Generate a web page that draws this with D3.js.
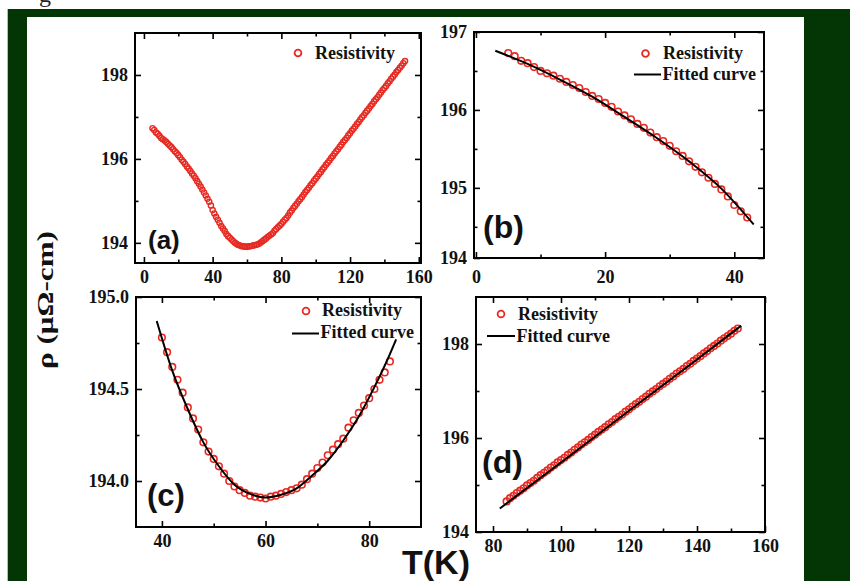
<!DOCTYPE html>
<html>
<head>
<meta charset="utf-8">
<script src="https://cdn.jsdelivr.net/npm/d3@7"></script>
<style>
  body { margin: 0; background: #fff; }
  svg { display: block; }
</style>
</head>
<body>
<script>
// measured resistivity, T in K, rho in µΩ-cm (same data set in all four panels)
const temps = [
  5, 6, 7, 8, 9, 10, 11, 12, 13, 14, 15, 16, 17, 18, 19, 20, 21, 22, 23, 24,
  25, 26, 27, 28, 29, 30, 31, 32, 33, 34, 35, 36, 37, 38, 39, 40, 41, 42, 43, 44,
  45, 46, 47, 48, 49, 50, 51, 52, 53, 54, 55, 56, 57, 58, 59, 60, 61, 62, 63, 64,
  65, 66, 67, 68, 69, 70, 71, 72, 73, 74, 75, 76, 77, 78, 79, 80, 81, 82, 83, 84,
  85, 86, 87, 88, 89, 90, 91, 92, 93, 94, 95, 96, 97, 98, 99, 100, 101, 102, 103, 104,
  105, 106, 107, 108, 109, 110, 111, 112, 113, 114, 115, 116, 117, 118, 119, 120, 121, 122, 123, 124,
  125, 126, 127, 128, 129, 130, 131, 132, 133, 134, 135, 136, 137, 138, 139, 140, 141, 142, 143, 144,
  145, 146, 147, 148, 149, 150, 151, 152
];
const rho = [
  196.73, 196.69, 196.63, 196.60, 196.55, 196.50, 196.47, 196.44, 196.40, 196.36,
  196.32, 196.28, 196.23, 196.18, 196.14, 196.09, 196.04, 195.98, 195.93, 195.88,
  195.82, 195.77, 195.71, 195.65, 195.60, 195.54, 195.47, 195.41, 195.34, 195.27,
  195.20, 195.13, 195.05, 194.98, 194.89, 194.78, 194.70, 194.62, 194.55, 194.48,
  194.40, 194.34, 194.28, 194.21, 194.16, 194.12, 194.08, 194.04, 194.00, 193.97,
  193.95, 193.935, 193.92, 193.915, 193.91, 193.905, 193.915, 193.92, 193.93, 193.94,
  193.95, 193.96, 193.98, 194.01, 194.04, 194.07, 194.10, 194.14, 194.17, 194.20,
  194.23, 194.29, 194.33, 194.37, 194.41, 194.45, 194.50, 194.55, 194.59, 194.65,
  194.72, 194.77, 194.83, 194.88, 194.93, 194.99, 195.04, 195.09, 195.15, 195.21,
  195.26, 195.31, 195.37, 195.42, 195.48, 195.53, 195.58, 195.64, 195.69, 195.75,
  195.80, 195.86, 195.91, 195.96, 196.02, 196.07, 196.13, 196.18, 196.23, 196.29,
  196.34, 196.40, 196.45, 196.50, 196.56, 196.61, 196.67, 196.72, 196.77, 196.83,
  196.88, 196.94, 196.99, 197.04, 197.10, 197.15, 197.20, 197.26, 197.31, 197.37,
  197.42, 197.47, 197.53, 197.58, 197.64, 197.69, 197.74, 197.80, 197.85, 197.91,
  197.96, 198.01, 198.07, 198.12, 198.17, 198.22, 198.28, 198.33
];

// fitted curves (b), (c), (d)
const fitLowT = [3, 8, 13, 18, 23, 28, 33, 38, 43];
const fitLowRho = [196.76, 196.59, 196.39, 196.17, 195.91, 195.64, 195.34, 194.99, 194.53];
const fitMidT = [39, 42, 45, 48, 51, 54, 57, 60, 63, 66, 69, 72, 75, 78, 81, 84, 85.2];
const fitMidRho = [194.87, 194.60, 194.39, 194.21, 194.08, 193.98, 193.93, 193.91, 193.925,
  193.96, 194.03, 194.11, 194.22, 194.35, 194.51, 194.69, 194.77];
const fitHighT = [82, 100, 120, 140, 153];
const fitHighRho = [194.50, 195.48, 196.58, 197.67, 198.39];

// tick values
const xTicksA = [0, 40, 80, 120, 160], xMinorA = [20, 60, 100, 140];
const yTicksA = [194, 196, 198], yMinorA = [195, 197];
const xTicksB = [0, 20, 40], xMinorB = [10, 30];
const yTicksB = [194.1, 195, 196, 197], yMinorB = [194.5, 195.5, 196.5];
const xTicksC = [40, 60, 80], xMinorC = [50, 70];
const yTicksC = [194.0, 194.5, 195.0], yMinorC = [194.25, 194.75];
const xTicksD = [80, 100, 120, 140, 160], xMinorD = [90, 110, 130, 150];
const yTicksD = [194, 196, 198], yMinorD = [195, 197];

const width = 850, height = 581;
const red = "#e62a22";
const serif = "'Liberation Serif', 'Times New Roman', serif";
const sans = "'Liberation Sans', Arial, sans-serif";

const svg = d3.select("body").append("svg")
  .attr("width", width)
  .attr("height", height);

// page frame
svg.append("rect").attr("width", width).attr("height", height).attr("fill", "#fff");
svg.append("rect").attr("x", 8).attr("y", 9).attr("width", width - 8).attr("height", height - 9)
  .attr("fill", "#033604");
svg.append("line").attr("x1", 7.5).attr("x2", 7.5).attr("y1", 9).attr("y2", height)
  .attr("stroke", "#bbb");
svg.append("rect").attr("x", 27).attr("y", 17).attr("width", 777).attr("height", height - 17)
  .attr("fill", "#fff");
// caption cut off by the top edge, as in the source
svg.append("text").attr("x", 39).attr("y", 2).text("g")
  .attr("font-family", serif).attr("font-size", 24).attr("fill", "#222");

const points = temps.map((t, i) => ({t: t, r: rho[i]}));
const zip = (a, b) => a.map((v, i) => [v, b[i]]);

const panels = [
  {box: [135, 421, 33, 263], xd: [-5.2, 161.3], yd: [193.52, 199],
   xt: xTicksA, xm: xMinorA, yt: yTicksA, ym: yMinorA, yf: d3.format("d"), xpad: 7,
   range: [0, 200], r: 2.6, sw: 1.4, fit: null,
   tag: "(a)", tagX: 148, tagY: 249, tagSize: 26,
   leg: {cx: 298, cy: 53, tx: 315, ty: 58.5}},
  {box: [474, 764, 32, 258], xd: [-0.3, 44.6], yd: [194.1, 197],
   xt: xTicksB, xm: xMinorB, yt: yTicksB, ym: yMinorB, yf: d3.format("d"), xpad: 12,
   range: [5, 42], r: 3.3, sw: 1.6, fit: zip(fitLowT, fitLowRho),
   tag: "(b)", tagX: 483, tagY: 238, tagSize: 32,
   leg: {cx: 645.5, cy: 53.5, tx: 663, ty: 58.5, lx1: 634, lx2: 661, ly: 74.5, fy: 80}},
  {box: [136, 421, 297, 527], xd: [35, 90], yd: [193.75, 195],
   xt: xTicksC, xm: xMinorC, yt: yTicksC, ym: yMinorC, yf: d3.format(".1f"), xpad: 7,
   range: [40, 84], r: 3.3, sw: 1.6, fit: zip(fitMidT, fitMidRho),
   tag: "(c)", tagX: 147, tagY: 506, tagSize: 31,
   leg: {cx: 306, cy: 311, tx: 322, ty: 316, lx1: 292, lx2: 319, ly: 333.5, fy: 338}},
  {box: [476, 765, 297, 532], xd: [75, 160], yd: [194, 199],
   xt: xTicksD, xm: xMinorD, yt: yTicksD, ym: yMinorD, yf: d3.format("d"), xpad: 7,
   range: [84, 152], r: 3.3, sw: 1.6, fit: zip(fitHighT, fitHighRho),
   tag: "(d)", tagX: 482, tagY: 473, tagSize: 32,
   leg: {cx: 501, cy: 314, tx: 518, ty: 319.5, lx1: 487, lx2: 515, ly: 336, fy: 341.5}}
];

function styleAxis(sel) {
  sel.select(".domain").remove();
  sel.selectAll(".tick line").attr("stroke", "#000").attr("stroke-width", 1.6);
  sel.selectAll(".tick text")
    .attr("font-family", serif)
    .attr("font-weight", "bold")
    .attr("font-size", 18)
    .attr("fill", "#111");
}

panels.forEach(p => {
  const [x0, x1, y0, y1] = p.box;
  const x = d3.scaleLinear().domain(p.xd).range([x0, x1]);
  const y = d3.scaleLinear().domain(p.yd).range([y1, y0]);
  const g = svg.append("g");

  // major ticks, inward on all four sides
  g.append("g").attr("transform", `translate(0,${y1})`)
    .call(d3.axisBottom(x).tickValues(p.xt).tickSize(-6).tickPadding(p.xpad).tickFormat(d3.format("d")))
    .call(styleAxis);
  g.append("g").attr("transform", `translate(0,${y0})`)
    .call(d3.axisTop(x).tickValues(p.xt).tickSize(-6).tickFormat(""))
    .call(styleAxis);
  g.append("g").attr("transform", `translate(${x0},0)`)
    .call(d3.axisLeft(y).tickValues(p.yt).tickSize(-6).tickPadding(7).tickFormat(p.yf))
    .call(styleAxis);
  g.append("g").attr("transform", `translate(${x1},0)`)
    .call(d3.axisRight(y).tickValues(p.yt).tickSize(-6).tickFormat(""))
    .call(styleAxis);

  // minor ticks
  [[d3.axisBottom(x), y1, p.xm, true], [d3.axisTop(x), y0, p.xm, true],
   [d3.axisLeft(y), x0, p.ym, false], [d3.axisRight(y), x1, p.ym, false]].forEach(([ax, pos, vals, horiz]) => {
    g.append("g")
      .attr("transform", horiz ? `translate(0,${pos})` : `translate(${pos},0)`)
      .call(ax.tickValues(vals).tickSize(-3.5).tickFormat(""))
      .call(styleAxis);
  });

  // frame
  g.append("rect").attr("x", x0).attr("y", y0).attr("width", x1 - x0).attr("height", y1 - y0)
    .attr("fill", "none").attr("stroke", "#000").attr("stroke-width", 2);

  // data
  const sub = points.filter(d => d.t >= p.range[0] && d.t <= p.range[1]);
  g.append("g").selectAll("circle")
    .data(sub)
    .enter()
      .append("circle")
      .attr("cx", d => x(d.t))
      .attr("cy", d => y(d.r))
      .attr("r", p.r)
      .attr("fill", "none")
      .attr("stroke", red)
      .attr("stroke-width", p.sw);

  if (p.fit) {
    const line = d3.line().x(d => x(d[0])).y(d => y(d[1])).curve(d3.curveMonotoneX);
    g.append("path").attr("d", line(p.fit))
      .attr("fill", "none").attr("stroke", "#000").attr("stroke-width", 2);
  }

  // panel tag
  g.append("text").attr("x", p.tagX).attr("y", p.tagY).text(p.tag)
    .attr("font-family", sans).attr("font-weight", "bold")
    .attr("font-size", p.tagSize).attr("fill", "#111");

  // legend
  const L = p.leg;
  g.append("circle").attr("cx", L.cx).attr("cy", L.cy).attr("r", 3.4)
    .attr("fill", "none").attr("stroke", red).attr("stroke-width", 1.8);
  g.append("text").attr("x", L.tx).attr("y", L.ty).text("Resistivity")
    .attr("font-family", serif).attr("font-weight", "bold").attr("font-size", 18).attr("fill", "#111");
  if (p.fit) {
    g.append("line").attr("x1", L.lx1).attr("x2", L.lx2).attr("y1", L.ly).attr("y2", L.ly)
      .attr("stroke", "#000").attr("stroke-width", 2);
    g.append("text").attr("x", L.lx2 + 1.5).attr("y", L.fy).text("Fitted curve")
      .attr("font-family", serif).attr("font-weight", "bold").attr("font-size", 18).attr("fill", "#111");
  }
});

// shared axis titles
svg.append("text")
  .attr("transform", "translate(53,300) rotate(-90)")
  .attr("text-anchor", "middle")
  .attr("textLength", 138)
  .attr("lengthAdjust", "spacingAndGlyphs")
  .attr("font-family", serif).attr("font-weight", "bold").attr("font-size", 24).attr("fill", "#111")
  .text("ρ (μΩ-cm)");

svg.append("text")
  .attr("x", 402).attr("y", 574)
  .attr("font-family", sans).attr("font-weight", "bold").attr("font-size", 34).attr("fill", "#111")
  .text("T(K)");
</script>
</body>
</html>
